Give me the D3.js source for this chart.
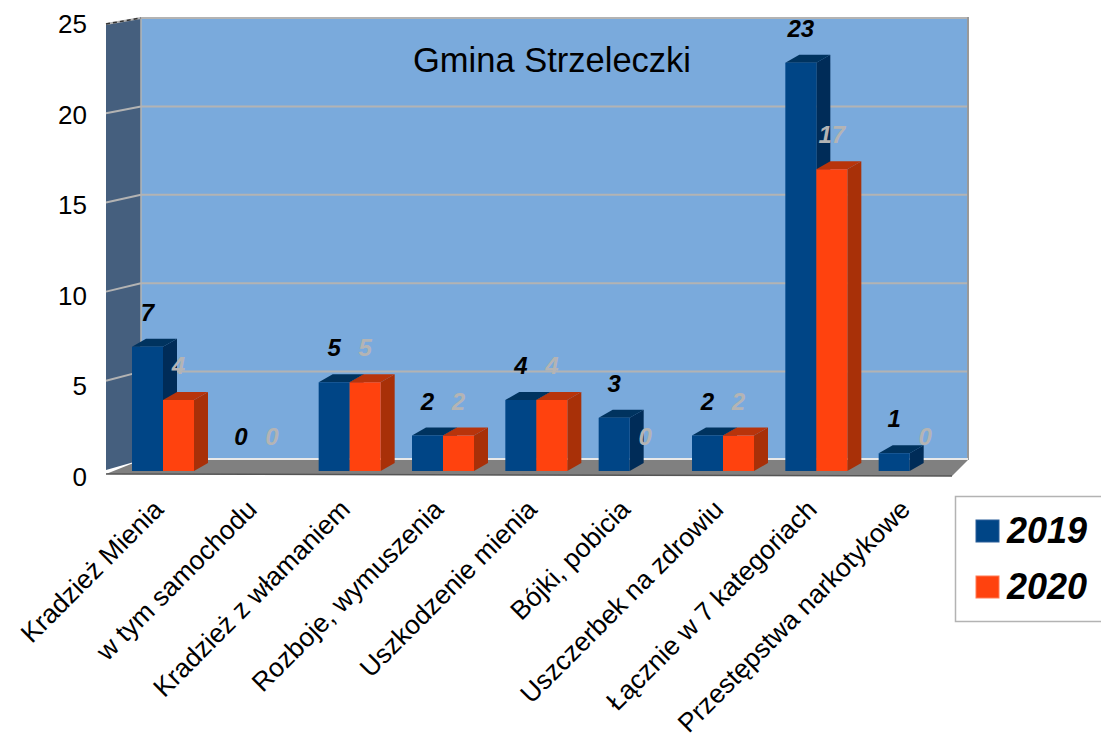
<!DOCTYPE html>
<html><head><meta charset="utf-8">
<script src="https://cdn.jsdelivr.net/npm/d3@7"></script>
<style>body{margin:0;background:#fff}svg{display:block;font-family:"Liberation Sans",Arial,sans-serif}</style>
</head><body>
<svg id="c" width="1101" height="740"></svg>
<script>
const categories = ["Kradzież Mienia","w tym samochodu","Kradzież z włamaniem","Rozboje, wymuszenia","Uszkodzenie mienia","Bójki, pobicia","Uszczerbek na zdrowiu","Łącznie w 7 kategoriach","Przestępstwa narkotykowe"];
const v2019 = [7,0,5,2,4,3,2,23,1];
const v2020 = [4,0,5,2,4,0,2,17,0];
const seriesNames = ["2019","2020"];
const yTicks = [0,5,10,15,20,25];
const title = "Gmina Strzeleczki";

const svg = d3.select("#c");
const back = {x0:141, x1:968, y0:460};
const front = {x0:106, x1:952};
const yBack = d3.scaleLinear().domain([0,25]).range([460,18]);
const yFront = d3.scaleLinear().domain([0,25]).range([470,24]);
const yBar = d3.scaleLinear().domain([0,25]).range([471,27.25]);
const yLab = d3.scaleLinear().domain([0,25]).range([486,33]);
const x = d3.scaleBand().domain(categories).range([110,950]).padding(0);
const sub = d3.scaleBand().domain(seriesNames).range([0,62]).padding(0);
const groupOff = 22;
const dx = 14, dy = -8;
const colors = {
  "2019": {front:"#004586", side:"#002c58", top:"#00335f"},
  "2020": {front:"#ff420e", side:"#a83008", top:"#b8340b"}
};
const gridCol = "#b3b3b3";

svg.append("rect").attr("x",back.x0).attr("y",yBack(25)).attr("width",back.x1-back.x0).attr("height",yBack(0)-yBack(25)).attr("fill","#7aaadc");
svg.append("polygon").attr("points",[[front.x0,yFront(25)],[back.x0,yBack(25)],[back.x0,yBack(0)],[front.x0,yFront(0)]].join(" ")).attr("fill","#455f7e");
yTicks.filter(d=>d>0).forEach(v=>{
  svg.append("line").attr("x1",back.x0).attr("x2",back.x1).attr("y1",yBack(v)).attr("y2",yBack(v)).attr("stroke",gridCol).attr("stroke-width",2);
  svg.append("line").attr("x1",front.x0).attr("x2",back.x0).attr("y1",yFront(v)).attr("y2",yBack(v)).attr("stroke",gridCol).attr("stroke-width",2);
});
svg.append("line").attr("x1",back.x0).attr("x2",back.x0).attr("y1",yBack(25)).attr("y2",yBack(0)).attr("stroke",gridCol).attr("stroke-width",1.5);
svg.append("line").attr("x1",back.x1).attr("x2",back.x1).attr("y1",yBack(25)-1).attr("y2",yBack(0)).attr("stroke","#999").attr("stroke-width",2);
svg.append("line").attr("x1",front.x0).attr("x2",back.x0).attr("y1",yFront(25)).attr("y2",yBack(25)).attr("stroke","#333").attr("stroke-width",1.5).attr("stroke-dasharray","4,3");
svg.append("polygon").attr("points",[[back.x0,yBack(0)],[back.x1,yBack(0)],[front.x1,476],[front.x0,yFront(0)+4]].join(" ")).attr("fill","#808080");
svg.append("line").attr("x1",back.x0).attr("x2",back.x1).attr("y1",yBack(0)-1).attr("y2",yBack(0)-1).attr("stroke","#e8e8e8").attr("stroke-width",2);
svg.append("line").attr("x1",front.x0).attr("x2",front.x1).attr("y1",yFront(0)+4).attr("y2",476).attr("stroke","#555").attr("stroke-width",1.5);

svg.append("text").attr("x",552).attr("y",72).attr("text-anchor","middle").attr("font-size",34.5).attr("fill","#000").text(title);

svg.selectAll(".yl").data(yTicks).join("text").attr("x",87).attr("y",d=>yLab(d)).attr("text-anchor","end").attr("font-size",26).text(d=>d);

const series = [["2019",v2019],["2020",v2020]];
categories.forEach((c,i)=>{
  series.forEach(([s,vals])=>{
    const v = vals[i];
    if (v<=0) return;
    const x0 = x(c)+groupOff+sub(s), w = sub.bandwidth();
    const yt = yBar(v), yb = yBar(0);
    const col = colors[s];
    const g = svg.append("g");
    g.append("polygon").attr("points",[[x0+w,yb],[x0+w+dx,yb+dy],[x0+w+dx,yt+dy],[x0+w,yt]].join(" ")).attr("fill",col.side);
    g.append("polygon").attr("points",[[x0,yt],[x0+dx,yt+dy],[x0+w+dx,yt+dy],[x0+w,yt]].join(" ")).attr("fill",col.top);
    g.append("rect").attr("x",x0).attr("y",yt).attr("width",w).attr("height",yb-yt).attr("fill",col.front);
  });
});
categories.forEach((c,i)=>{
  series.forEach(([s,vals])=>{
    const v = vals[i];
    const cx = x(c)+groupOff+sub(s)+sub.bandwidth()/2;
    svg.append("text").attr("x",cx).attr("y",yBar(v)-26).attr("text-anchor","middle")
      .attr("font-size",24).attr("font-weight","bold").attr("font-style","italic")
      .attr("fill", s==="2019" ? "#000" : "#b4b4b4").text(v);
  });
});
svg.selectAll(".xl").data(categories).join("text")
  .attr("transform",d=>`translate(${x(d)+groupOff+31+2},511) rotate(-45)`)
  .attr("text-anchor","end").attr("font-size",26.5).attr("fill","#000").text(d=>d);

svg.append("rect").attr("x",955.5).attr("y",496.5).attr("width",150).attr("height",125).attr("fill","#fff").attr("stroke","#b3b3b3").attr("stroke-width",1.5);
const leg = svg.selectAll(".lg").data(seriesNames).join("g").attr("transform",(d,i)=>`translate(976,${520+i*56})`);
leg.append("rect").attr("width",23).attr("height",22).attr("fill",d=>colors[d].front).attr("stroke",d=>d==="2019"?"#2a5f99":"#ff7a55").attr("stroke-width",1);
leg.append("text").attr("x",31).attr("y",23).attr("font-size",36).attr("font-weight","bold").attr("font-style","italic").text(d=>d);
</script>
</body></html>
